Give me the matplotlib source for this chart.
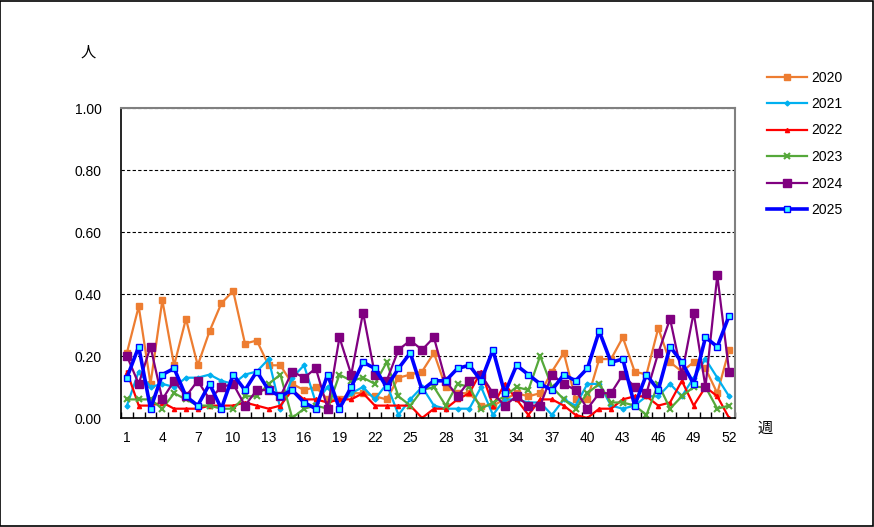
import matplotlib.pyplot as plt
from matplotlib.patches import Rectangle

weeks = list(range(1, 53))

y2020 = [0.21, 0.36, 0.11, 0.38, 0.17, 0.32, 0.17, 0.28, 0.37, 0.41,
         0.24, 0.25, 0.17, 0.17, 0.11, 0.09, 0.10, 0.06, 0.06, 0.08,
         0.08, 0.07, 0.06, 0.13, 0.14, 0.15, 0.21, 0.10, 0.08, 0.08,
         0.04, 0.04, 0.06, 0.08, 0.07, 0.08, 0.15, 0.21, 0.06, 0.06,
         0.19, 0.19, 0.26, 0.15, 0.14, 0.29, 0.18, 0.15, 0.18, 0.16,
         0.08, 0.22]
y2021 = [0.04, 0.15, 0.10, 0.11, 0.10, 0.13, 0.13, 0.14, 0.12, 0.11,
         0.14, 0.15, 0.19, 0.03, 0.13, 0.17, 0.05, 0.10, 0.04, 0.08,
         0.10, 0.06, 0.11, 0.01, 0.06, 0.10, 0.04, 0.03, 0.03, 0.03,
         0.10, 0.01, 0.06, 0.06, 0.05, 0.05, 0.01, 0.06, 0.04, 0.11,
         0.11, 0.04, 0.03, 0.04, 0.07, 0.07, 0.11, 0.07, 0.13, 0.19,
         0.13, 0.07]
y2022 = [0.15, 0.04, 0.04, 0.05, 0.03, 0.03, 0.03, 0.04, 0.04, 0.04,
         0.05, 0.04, 0.03, 0.04, 0.09, 0.06, 0.06, 0.05, 0.06, 0.06,
         0.08, 0.04, 0.04, 0.04, 0.04, 0.00, 0.03, 0.03, 0.06, 0.08,
         0.15, 0.04, 0.11, 0.06, 0.01, 0.06, 0.06, 0.04, 0.01, 0.00,
         0.03, 0.03, 0.06, 0.07, 0.07, 0.04, 0.05, 0.12, 0.04, 0.10,
         0.07, 0.00]
y2023 = [0.06, 0.06, 0.06, 0.03, 0.08, 0.06, 0.04, 0.04, 0.03, 0.03,
         0.07, 0.07, 0.11, 0.14, 0.00, 0.03, 0.04, 0.03, 0.14, 0.12,
         0.13, 0.11, 0.18, 0.07, 0.04, 0.09, 0.10, 0.04, 0.11, 0.10,
         0.03, 0.05, 0.07, 0.10, 0.09, 0.20, 0.10, 0.06, 0.03, 0.08,
         0.11, 0.05, 0.05, 0.04, 0.01, 0.11, 0.03, 0.07, 0.10, 0.10,
         0.03, 0.04]
y2024 = [0.20, 0.11, 0.23, 0.06, 0.12, 0.07, 0.12, 0.06, 0.10, 0.11,
         0.04, 0.09, 0.09, 0.07, 0.15, 0.13, 0.16, 0.03, 0.26, 0.14,
         0.34, 0.14, 0.12, 0.22, 0.25, 0.22, 0.26, 0.12, 0.07, 0.12,
         0.14, 0.08, 0.04, 0.07, 0.04, 0.04, 0.14, 0.11, 0.09, 0.03,
         0.08, 0.08, 0.14, 0.10, 0.08, 0.21, 0.32, 0.14, 0.34, 0.10,
         0.46, 0.15]
y2025 = [0.13, 0.23, 0.03, 0.14, 0.16, 0.07, 0.04, 0.11, 0.03, 0.14,
         0.09, 0.15, 0.09, 0.07, 0.09, 0.05, 0.03, 0.14, 0.03, 0.10,
         0.18, 0.16, 0.10, 0.16, 0.21, 0.09, 0.12, 0.12, 0.16, 0.17,
         0.12, 0.22, 0.08, 0.17, 0.14, 0.11, 0.09, 0.14, 0.12, 0.16,
         0.28, 0.18, 0.19, 0.04, 0.14, 0.09, 0.23, 0.18, 0.11, 0.26,
         0.23, 0.33]

xtick_weeks = list(range(1, 53, 3))
yticks = [0.0, 0.2, 0.4, 0.6, 0.8, 1.0]

plt.rcParams['font.family'] = ['Liberation Sans', 'Noto Sans CJK JP', 'DejaVu Sans']
plt.rcParams['font.size'] = 10

fig = plt.figure(figsize=(8.74, 5.27), dpi=100)
ax = fig.add_axes([121 / 874, 1 - 418 / 527, 614 / 874, 310 / 527])

ax.plot(weeks, y2020, color='#ED7D31', lw=1.6, marker='s', ms=3.8, label='2020')
ax.plot(weeks, y2021, color='#00B0F0', lw=1.6, marker='D', ms=2.5, label='2021')
ax.plot(weeks, y2022, color='#FF0000', lw=1.6, marker='^', ms=3.0, label='2022')
ax.plot(weeks, y2023, color='#55A83A', lw=1.6, marker='x', ms=4.0, mew=1.5, label='2023')
ax.plot(weeks, y2024, color='#800080', lw=1.6, marker='s', ms=5.5, label='2024')
ax.plot(weeks, y2025, color='#0000FF', lw=2.6, marker='s', ms=4.2,
        mfc='#33FFFF', mec='#0000FF', mew=1.0, label='2025')

ax.set_xlim(0.5, 52.5)
ax.set_ylim(0, 1.0)
ax.set_yticks(yticks)
ax.set_yticklabels([f'{v:.2f}' for v in yticks])
ax.set_xticks(xtick_weeks)
ax.set_xticks([w + 0.5 for w in range(0, 53)], minor=True)
ax.tick_params(axis='x', which='major', length=0, pad=9)
ax.tick_params(axis='x', which='minor', direction='in', length=4, width=1, color='black')
ax.tick_params(axis='y', length=0, pad=14)

for v in yticks[1:]:
    ax.axhline(v, color='black', lw=0.8, ls=(0, (3, 2)), zorder=0)

for side in ['top', 'right']:
    ax.spines[side].set_color('#808080')
    ax.spines[side].set_linewidth(1.5)
for side in ['left', 'bottom']:
    ax.spines[side].set_color('black')
    ax.spines[side].set_linewidth(1.2)

fig.text(88 / 874, 1 - 52 / 527, '人', family=['Noto Sans CJK JP'], fontsize=11,
         ha='center', va='center')
fig.text(765 / 874, 1 - 428 / 527, '週', family=['Noto Sans CJK JP'], fontsize=11,
         ha='center', va='center')

fig.legend(loc='upper left', bbox_to_anchor=(754 / 874, 1 - 58 / 527), frameon=False,
           handlelength=2.95, handletextpad=0.3, labelspacing=0.90, fontsize=10)

fig.patches.append(Rectangle((0.0005, 0.001), 0.998, 0.997, transform=fig.transFigure,
                             fill=False, edgecolor='black', lw=1.2))

fig.savefig('out.png', dpi=100)
